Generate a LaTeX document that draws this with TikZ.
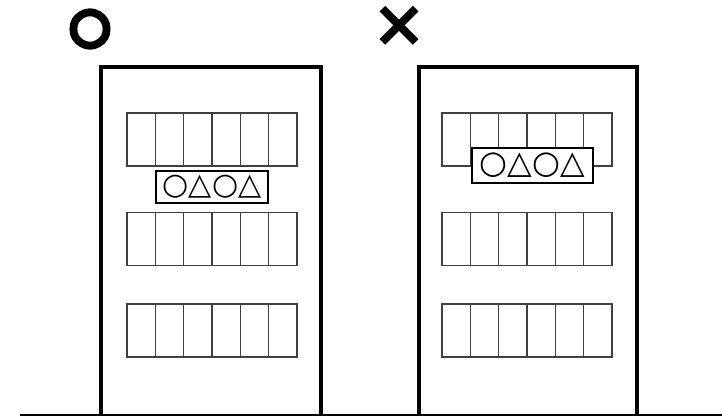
\documentclass[tikz,border=0pt]{standalone}
\usepackage{fontspec}
\newfontfamily\symfont{DejaVu Sans}
\newfontfamily\ringfont[FakeBold=11]{DejaVu Sans}
\newfontfamily\crossfont[FakeBold=3]{DejaVu Sans}
\newcommand\glazing[2]{%
  \draw[pane] (#1,#2) rectangle ++(170,53);
  \foreach \k in {1,...,5} \draw[pane] ({#1+\k*170/6},#2) -- ++(0,53);
}
\begin{document}
\begin{tikzpicture}[x=1pt,y=-1pt,
  wall/.style={line width=3.5pt, line join=miter},
  groundline/.style={line width=2pt},
  pane/.style={draw=black!75, line width=1.3pt},
  labelbox/.style={draw, line width=2pt, fill=white, inner sep=0pt},
  verdict/.style={inner sep=0pt}]
\useasboundingbox (0,0) rectangle (722,416);
% marks
\node[verdict, font=\ringfont\fontsize{47}{47}\selectfont] (good) at (90,29) {○};
\node[verdict, font=\crossfont\fontsize{62}{62}\selectfont] (bad) at (399,27.5) {✕};
% buildings
\draw[wall] (101,416) -- (101,67) -- (321,67) -- (321,416);
\draw[wall] (419,416) -- (419,67) -- (637,67) -- (637,416);
\coordinate (g0) at (20,415);
\coordinate (g1) at (722,415);
\draw[groundline] (g0) -- (g1);
% windows
\glazing{127}{113}
\glazing{127}{212.5}
\glazing{127}{304}
\glazing{442}{113}
\glazing{442}{212.5}
\glazing{442}{304}
% labels
\node[labelbox, minimum width=112pt, minimum height=32pt, font=\symfont\fontsize{30}{30}\selectfont] (lblL) at (212,187) {○△○△};
\node[labelbox, minimum width=121pt, minimum height=35pt, font=\symfont\fontsize{32}{32}\selectfont] (lblR) at (532.5,165.5) {○△○△};
\end{tikzpicture}
\end{document}
